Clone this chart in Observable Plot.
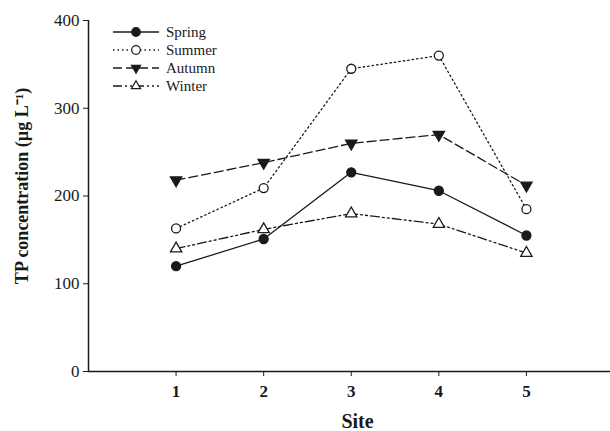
<!DOCTYPE html>
<html><head><meta charset="utf-8">
<script src="https://cdn.jsdelivr.net/npm/d3@7"></script>
<script src="https://cdn.jsdelivr.net/npm/@observablehq/plot@0.6"></script>
<style>
body{margin:0;background:#fff;}
#chart svg{font-family:"Liberation Serif","Times New Roman",serif;}
</style>
</head><body><div id="chart"></div>
<script>
const sites = [1, 2, 3, 4, 5];
const seasons = ["Spring", "Summer", "Autumn", "Winter"];
const spring = [120, 151, 227, 206, 155];
const summer = [163, 209, 345, 360, 185];
const autumn = [218, 238, 260, 270, 212];
const winter = [140, 162, 180, 168, 135];
const yTicks = [0, 100, 200, 300, 400];
const xTicks = [1, 2, 3, 4, 5];

const seriesValues = {Spring: spring, Summer: summer, Autumn: autumn, Winter: winter};
const data = seasons.flatMap(s => sites.map((site, i) => ({season: s, site, value: seriesValues[s][i]})));

const ink = "#1a1a1a";
const styles = {
  Spring: {dash: null, symbol: "circle", fill: ink, rotate: 0},
  Summer: {dash: "1.5,3", symbol: "circle", fill: "white", rotate: 0},
  Autumn: {dash: "9,4", symbol: "triangle", fill: ink, rotate: 180},
  Winter: {dash: "9,3,2,3,2,3", symbol: "triangle", fill: "white", rotate: 0}
};

const marks = [
  Plot.ruleY([0], {stroke: ink, strokeWidth: 1.5}),
  Plot.ruleX([0], {y1: 0, y2: 400, stroke: ink, strokeWidth: 1.5}),
  Plot.axisY({ticks: yTicks, tickSize: 5, tickPadding: 4, fontSize: 17, label: null, stroke: ink, color: ink}),
  Plot.axisX({ticks: xTicks, tickSize: 5, tickPadding: 8, fontSize: 17, fontWeight: "bold", label: null, tickFormat: d => d}),
  Plot.text(["TP concentration (µg L⁻¹)"], {frameAnchor: "left", textAnchor: "middle", rotate: -90, dx: -66, dy: -10, fontSize: 18, fontWeight: "bold", fill: ink}),
  Plot.text(["Site"], {frameAnchor: "bottom", dx: 8, dy: 56, fontSize: 20, fontWeight: "bold", fill: ink})
];
for (const s of seasons) {
  const st = styles[s];
  const d = data.filter(r => r.season === s);
  marks.push(Plot.line(d, {x: "site", y: "value", stroke: ink, strokeWidth: 1.3, strokeDasharray: st.dash}));
  marks.push(Plot.dot(d, {x: "site", y: "value", symbol: st.symbol, r: st.symbol === "circle" ? 4.5 : 4.2, fill: st.fill, stroke: ink, strokeWidth: 1.3, rotate: st.rotate}));
}

const chart = Plot.plot({
  width: 610, height: 431,
  marginLeft: 88, marginRight: 0, marginTop: 20, marginBottom: 60,
  x: {domain: [0, 5.96]},
  y: {domain: [0, 400]},
  style: {fontFamily: "'Liberation Serif','Times New Roman',serif", color: ink, background: "white"},
  marks
});

// legend drawn inside the plot area
const svg = d3.select(chart);
const lg = svg.append("g").attr("transform", "translate(113,32)");
seasons.forEach((s, i) => {
  const st = styles[s];
  const g = lg.append("g").attr("transform", `translate(0,${i * 18})`);
  g.append("line").attr("x1", 0).attr("x2", 46).attr("stroke", ink).attr("stroke-width", 1.3)
    .attr("stroke-dasharray", st.dash);
  const sym = st.symbol === "circle" ? d3.symbolCircle : d3.symbolTriangle;
  const size = st.symbol === "circle" ? Math.PI * 4.3 * 4.3 : 36;
  g.append("path").attr("d", d3.symbol(sym, size)()).attr("transform", `translate(23,0) rotate(${st.rotate})`)
    .attr("fill", st.fill).attr("stroke", ink).attr("stroke-width", 1.2);
  g.append("text").attr("x", 53).attr("dy", "0.35em").attr("text-anchor", "start")
    .attr("font-size", 15).attr("fill", ink).text(s);
});

document.getElementById("chart").appendChild(chart);
</script>
</body></html>
